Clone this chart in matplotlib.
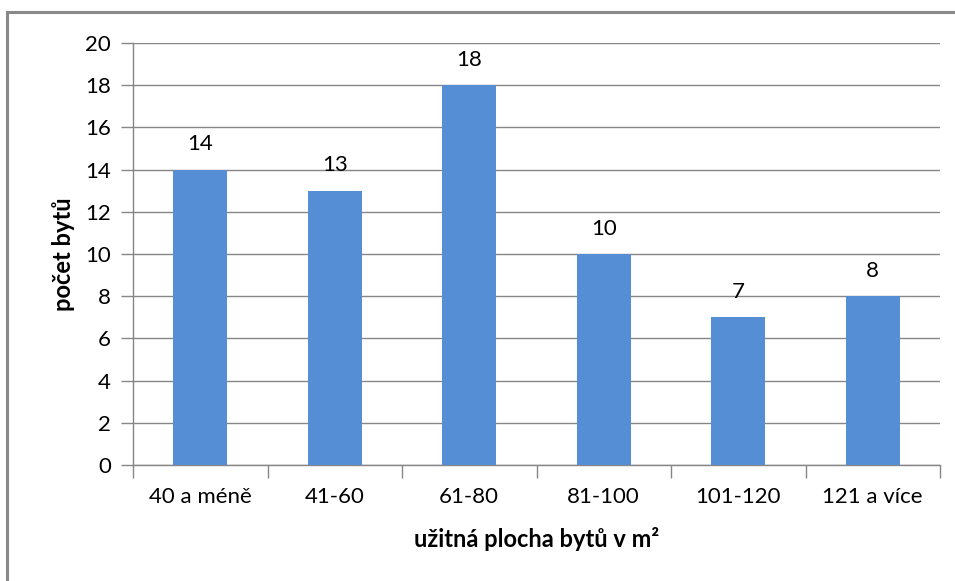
import matplotlib
matplotlib.use("Agg")
import matplotlib.pyplot as plt
from matplotlib.patches import Rectangle
import numpy as np

categories = ["40 a méně", "41-60", "61-80", "81-100", "101-120", "121 a více"]
counts = [14, 13, 18, 10, 7, 8]
y_ticks = [0, 2, 4, 6, 8, 10, 12, 14, 16, 18, 20]

plt.rcParams["font.family"] = ["Lato", "DejaVu Sans"]

W, H = 955, 581
fig = plt.figure(figsize=(W / 100, H / 100), dpi=100)
fig.patch.set_facecolor("white")

# chart frame
fig.patches.append(Rectangle((7 / W, -0.05), 1.1, 1 - 12 / H + 0.05,
                             transform=fig.transFigure, fill=False,
                             edgecolor="#898989", linewidth=2.2, zorder=0))

ax = fig.add_axes([133 / W, 1 - 465 / H, (940 - 133) / W, (465 - 43) / H])
grid_c = "#868686"
x = np.arange(len(categories))
bars = ax.bar(x, counts, width=0.40, color="#558ED5", zorder=3)

fs = 16
ax.set_xlim(-0.5, len(categories) - 0.5)
ax.set_ylim(0, 20)
ax.set_yticks(y_ticks)
ax.set_yticklabels([str(v) for v in y_ticks], fontsize=fs)
ax.yaxis.grid(True, color=grid_c, linewidth=1.0, zorder=0)
ax.set_axisbelow(True)

ax.set_xticks(np.arange(len(categories) + 1) - 0.5)
ax.set_xticklabels([])
ax.set_xticks(x, minor=True)
ax.set_xticklabels(categories, minor=True, fontsize=fs)
ax.tick_params(axis="x", which="major", length=9, width=1.0, color=grid_c, direction="out")
ax.tick_params(axis="x", which="minor", length=0, pad=16)
ax.tick_params(axis="y", length=9, width=1.0, color=grid_c, direction="out", pad=7)

for s in ["top", "right"]:
    ax.spines[s].set_visible(False)
for s in ["left", "bottom"]:
    ax.spines[s].set_color(grid_c)
    ax.spines[s].set_linewidth(1.0)

for xi, v in zip(x, counts):
    ax.annotate(str(v), (xi, v), xytext=(0, 11), textcoords="offset points",
                ha="center", va="bottom", fontsize=fs)

ax.set_ylabel("počet bytů", fontsize=17, fontweight="bold", labelpad=7)
ax.set_xlabel("užitná plocha bytů v m²", fontsize=17, fontweight="bold", labelpad=14)

fig.savefig("out.png", dpi=100)
